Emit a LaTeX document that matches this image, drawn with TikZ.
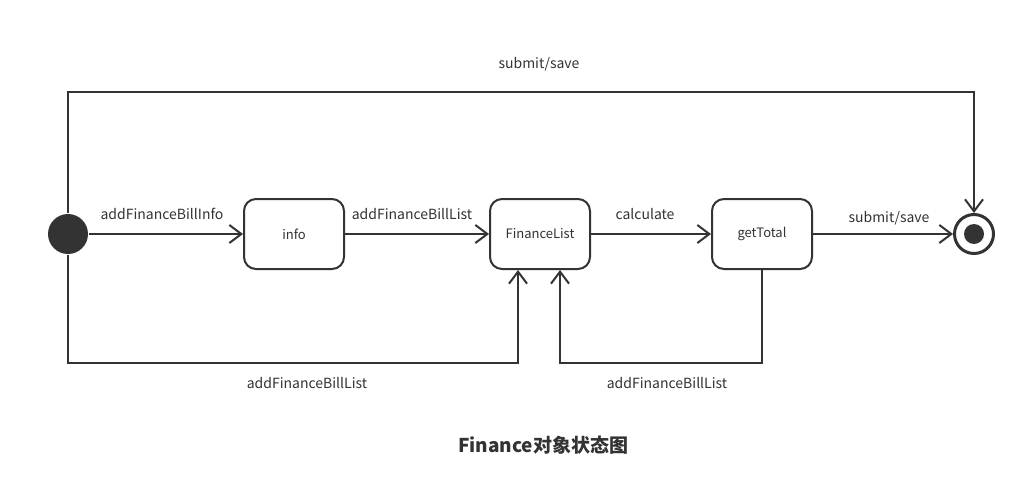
\documentclass[tikz,border=0pt]{standalone}
\usepackage{fontspec}
\setmainfont{Noto Sans CJK SC}
\usetikzlibrary{arrows.meta}
\definecolor{ink}{HTML}{333333}
\begin{document}
\begin{tikzpicture}[x=1pt,y=-1pt,
  line width=2pt, draw=ink,
  state/.style={draw=ink,line width=2pt,rounded corners=12pt,minimum width=100pt,minimum height=70pt,inner sep=0pt,font=\fontsize{13}{15}\selectfont,text=ink},
  lbl/.style={font=\fontsize{14}{16}\selectfont,text=ink,inner sep=0pt},
  arr/.style={draw=ink,line width=2pt,-{Straight Barb[length=12pt,width=18pt,line width=2pt]}}]
\useasboundingbox (0,0) rectangle (1026,495);
\fill[white] (0,0) rectangle (1026,495);
\node[circle,fill=ink,minimum size=40pt,inner sep=0pt] (init) at (68,234) {};
\node[state] (info) at (294,234) {info};
\node[state] (flist) at (540,234) {FinanceList};
\node[state] (total) at (762,234) {getTotal};
\node[circle,draw=ink,line width=3pt,minimum size=39pt,inner sep=0pt] (final) at (974,234) {};
\fill[ink] (final.center) circle (10pt);
\coordinate (tl) at (68,92);
\coordinate (tr) at (974,92);
\coordinate (bl) at (68,363);
\coordinate (bm) at (518,363);
\coordinate (br) at (762,363);
\coordinate (bm2) at (560,363);
\draw[arr] (init.north) -- (tl) -- (tr) -- (final.north);
\draw[arr] (init.east) -- (info.west);
\draw[arr] (info.east) -- (flist.west);
\draw[arr] (flist.east) -- (total.west);
\draw[arr] (total.east) -- (final.west);
\draw[arr] (init.south) -- (bl) -- (bm) -- (bm |- flist.south);
\draw[arr] (total.south) -- (br) -- (bm2) -- (bm2 |- flist.south);
\node[lbl] (l1) at (539,64) {submit/save};
\node[lbl] (l2) at (162,214) {addFinanceBillInfo};
\node[lbl] (l3) at (412,214) {addFinanceBillList};
\node[lbl] (l4) at (645,214) {calculate};
\node[lbl] (l5) at (889,218) {submit/save};
\node[lbl] (l6) at (307,383) {addFinanceBillList};
\node[lbl] (l7) at (667,383) {addFinanceBillList};
\node[lbl,font=\fontsize{19}{22}\selectfont\bfseries] (title) at (543,445) {Finance对象状态图};
\end{tikzpicture}
\end{document}
